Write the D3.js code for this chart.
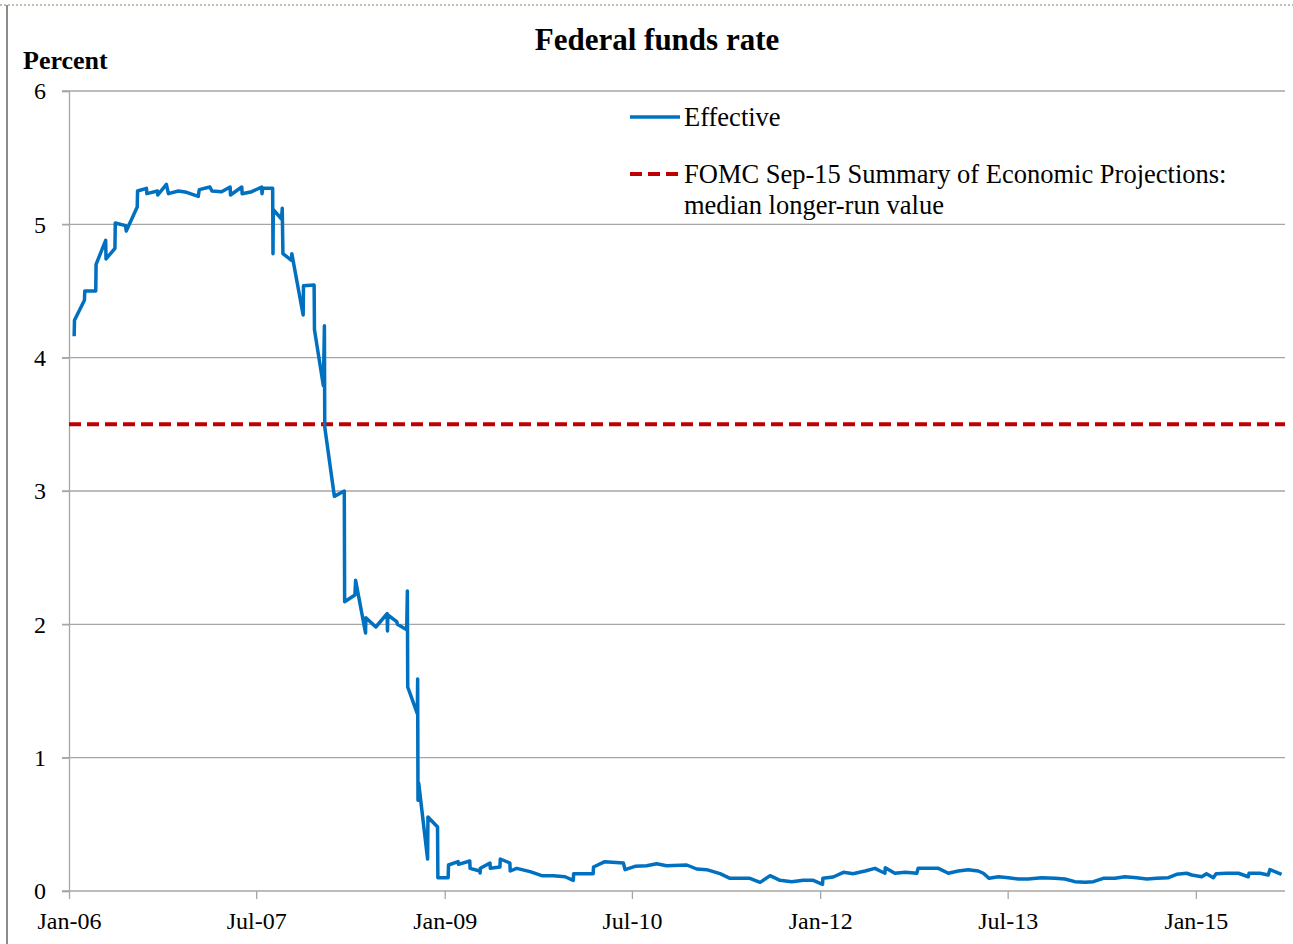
<!DOCTYPE html>
<html>
<head>
<meta charset="utf-8">
<script src="https://cdn.jsdelivr.net/npm/d3@7"></script>
<style>
  html, body { margin: 0; padding: 0; background: #fff; }
  svg { display: block; font-family: "Liberation Serif", "Times New Roman", serif; }
  .tick text { font-size: 24px; fill: #000; font-family: "Liberation Serif", "Times New Roman", serif; }
</style>
</head>
<body>
<svg id="chart" width="1293" height="944"></svg>
<script>
// effective fed funds rate
const dates = [
  '2006-01-16','2006-01-17','2006-02-15','2006-02-16','2006-03-20','2006-03-21','2006-04-18','2006-04-19',
  '2006-05-15','2006-05-16','2006-06-15','2006-06-17','2006-07-19','2006-07-20','2006-08-15','2006-08-16',
  '2006-09-16','2006-09-17','2006-10-12','2006-10-18','2006-11-16','2006-12-10','2007-01-13','2007-01-16',
  '2007-02-16','2007-02-22','2007-03-22','2007-04-16','2007-04-17','2007-05-20','2007-05-21','2007-06-18',
  '2007-07-17','2007-07-18','2007-07-20','2007-08-18','2007-08-19','2007-08-20','2007-09-13','2007-09-15',
  '2007-09-17','2007-10-12','2007-10-13','2007-11-15','2007-11-16','2007-12-17','2007-12-18','2008-01-13',
  '2008-01-16','2008-01-17','2008-02-14','2008-03-14','2008-03-15','2008-04-14','2008-04-16','2008-05-15',
  '2008-05-16','2008-06-14','2008-07-17','2008-07-18','2008-07-19','2008-08-14','2008-08-16','2008-09-12',
  '2008-09-14','2008-09-15','2008-10-13','2008-10-14','2008-10-15','2008-10-17','2008-11-12','2008-11-13',
  '2008-12-11','2008-12-12','2009-01-11','2009-01-12','2009-02-09','2009-02-10','2009-03-15','2009-03-16',
  '2009-04-13','2009-04-14','2009-04-15','2009-05-13','2009-05-14','2009-06-11','2009-06-12','2009-07-10',
  '2009-07-11','2009-07-30','2009-09-07','2009-10-11','2009-11-14','2009-12-18','2010-01-11','2010-01-12',
  '2010-02-09','2010-03-10','2010-03-11','2010-04-13','2010-06-06','2010-06-11','2010-07-10','2010-08-13',
  '2010-09-11','2010-10-10','2010-12-08','2011-01-06','2011-02-04','2011-03-15','2011-04-13','2011-05-12',
  '2011-06-10','2011-07-10','2011-08-08','2011-09-06','2011-10-10','2011-11-13','2011-12-12','2012-01-08',
  '2012-01-09','2012-02-08','2012-03-09','2012-04-07','2012-04-12','2012-05-11','2012-06-09','2012-06-24',
  '2012-07-08','2012-07-09','2012-08-06','2012-09-05','2012-10-09','2012-10-13','2012-12-11','2013-01-09',
  '2013-02-07','2013-03-08','2013-04-06','2013-04-21','2013-05-08','2013-06-04','2013-07-03','2013-08-01',
  '2013-08-30','2013-10-08','2013-11-16','2013-12-15','2014-01-13','2014-02-12','2014-03-08','2014-04-06',
  '2014-05-10','2014-06-08','2014-07-12','2014-08-11','2014-09-09','2014-10-13','2014-11-06','2014-12-05',
  '2014-12-20','2015-01-18','2015-02-01','2015-02-21','2015-03-01','2015-04-01','2015-05-05','2015-06-03',
  '2015-06-05','2015-07-07','2015-07-31','2015-08-05','2015-09-08'
];
const effective = [
  4.16, 4.28, 4.43, 4.50, 4.50, 4.70, 4.88, 4.74,
  4.82, 5.01, 4.99, 4.95, 5.13, 5.25, 5.27, 5.23,
  5.25, 5.22, 5.30, 5.23, 5.25, 5.24, 5.21, 5.26,
  5.28, 5.25, 5.245, 5.28, 5.22, 5.28, 5.23, 5.245,
  5.28, 5.23, 5.27, 5.27, 4.78, 5.11, 5.04, 5.12,
  4.78, 4.73, 4.78, 4.32, 4.54, 4.545, 4.21, 3.79,
  4.24, 3.48, 2.96, 3.00, 2.17, 2.22, 2.33, 1.935,
  2.05, 1.98, 2.08, 1.95, 2.07, 2.02, 2.00, 1.96,
  2.25, 1.53, 1.33, 1.59, 0.68, 0.81, 0.24, 0.555,
  0.48, 0.10, 0.10, 0.195, 0.22, 0.20, 0.225, 0.17,
  0.15, 0.135, 0.17, 0.21, 0.17, 0.18, 0.24, 0.21,
  0.15, 0.17, 0.145, 0.115, 0.115, 0.107, 0.08, 0.13,
  0.13, 0.13, 0.18, 0.22, 0.21, 0.16, 0.185, 0.19,
  0.205, 0.19, 0.195, 0.165, 0.16, 0.13, 0.095, 0.095,
  0.095, 0.065, 0.115, 0.08, 0.07, 0.08, 0.08, 0.05,
  0.095, 0.105, 0.14, 0.13, 0.133, 0.15, 0.17, 0.15,
  0.133, 0.175, 0.133, 0.14, 0.133, 0.17, 0.17, 0.133,
  0.15, 0.16, 0.15, 0.133, 0.095, 0.107, 0.10, 0.09,
  0.09, 0.10, 0.095, 0.09, 0.07, 0.065, 0.07, 0.095,
  0.095, 0.107, 0.10, 0.09, 0.095, 0.10, 0.125, 0.133,
  0.12, 0.107, 0.13, 0.10, 0.13, 0.133, 0.133, 0.107,
  0.133, 0.133, 0.12, 0.16, 0.125
];

const longerRun = 3.5;
const yTicks = [0, 1, 2, 3, 4, 5, 6];
const xTicks = ['2006-01-01', '2007-07-01', '2009-01-01', '2010-07-01', '2012-01-01', '2013-07-01', '2015-01-01'];
const xDomain = ['2006-01-01', '2015-09-18'];

const BLUE = '#0070c0';
const RED = '#c00000';
const GRID = '#a6a6a6';
const SERIF = '"Liberation Serif", "Times New Roman", serif';

const parse = d3.timeParse('%Y-%m-%d');
const series = dates.map((d, i) => ({ date: parse(d), value: effective[i] }));

const svg = d3.select('#chart');
const plot = { left: 69, right: 1285, top: 91, bottom: 891 };

const x = d3.scaleTime().domain(xDomain.map(parse)).range([plot.left, plot.right]);
const y = d3.scaleLinear().domain([0, 6]).range([plot.bottom, plot.top]);

// outer frame bits
svg.append('line').attr('x1', 7).attr('x2', 7).attr('y1', 5).attr('y2', 944)
  .attr('stroke', '#8c8c8c').attr('stroke-width', 2);
svg.append('line').attr('x1', 0).attr('x2', 1293).attr('y1', 5).attr('y2', 5)
  .attr('stroke', '#8a7a5a').attr('stroke-width', 1.2).attr('stroke-dasharray', '2,2');

// gridlines
svg.append('g')
  .selectAll('line')
  .data(yTicks.filter(t => t > 0))
  .join('line')
  .attr('x1', plot.left - 7).attr('x2', plot.right)
  .attr('y1', d => y(d)).attr('y2', d => y(d))
  .attr('stroke', GRID).attr('stroke-width', 1.3);

// y axis
const yAxis = svg.append('g')
  .attr('transform', `translate(${plot.left},0)`)
  .call(d3.axisLeft(y).tickValues(yTicks).tickSize(7).tickPadding(16).tickFormat(d3.format('d')))
  .attr('font-family', SERIF).attr('font-size', 24);
yAxis.select('.domain').attr('stroke', GRID).attr('stroke-width', 1.3);
yAxis.selectAll('.tick line').attr('stroke', GRID).attr('stroke-width', 1.3);
yAxis.selectAll('.tick text').attr('dy', '0.33em');

// x axis
const xAxis = svg.append('g')
  .attr('transform', `translate(0,${plot.bottom})`)
  .call(d3.axisBottom(x).tickValues(xTicks.map(parse)).tickSize(8).tickPadding(13)
    .tickFormat(d3.timeFormat('%b-%y')))
  .attr('font-family', SERIF).attr('font-size', 24);
xAxis.select('.domain').attr('stroke', GRID).attr('stroke-width', 1.3)
  .attr('d', `M${plot.left - 7},0H${plot.right}`);
xAxis.selectAll('.tick line').attr('stroke', GRID).attr('stroke-width', 1.3);

// longer-run value
svg.append('line')
  .attr('x1', plot.left).attr('x2', plot.right)
  .attr('y1', y(longerRun)).attr('y2', y(longerRun))
  .attr('stroke', RED).attr('stroke-width', 4).attr('stroke-dasharray', '12,6');

// effective rate
svg.append('path')
  .datum(series)
  .attr('fill', 'none')
  .attr('stroke', BLUE)
  .attr('stroke-width', 3.5)
  .attr('stroke-linejoin', 'round')
  .attr('d', d3.line().x(d => x(d.date)).y(d => y(d.value)));

// titles
svg.append('text').attr('x', 657).attr('y', 50).attr('text-anchor', 'middle')
  .attr('font-size', 31).attr('font-weight', 'bold').text('Federal funds rate');
svg.append('text').attr('x', 23).attr('y', 69)
  .attr('font-size', 26).attr('font-weight', 'bold').text('Percent');

// legend
const legend = svg.append('g').attr('font-size', 26.5);
legend.append('line').attr('x1', 630).attr('x2', 680).attr('y1', 117).attr('y2', 117)
  .attr('stroke', BLUE).attr('stroke-width', 3.5);
legend.append('text').attr('x', 684).attr('y', 126).text('Effective');
legend.append('line').attr('x1', 630).attr('x2', 680).attr('y1', 174).attr('y2', 174)
  .attr('stroke', RED).attr('stroke-width', 4).attr('stroke-dasharray', '12,6');
legend.append('text').attr('x', 684).attr('y', 183).text('FOMC Sep-15 Summary of Economic Projections:');
legend.append('text').attr('x', 684).attr('y', 214).text('median longer-run value');
</script>
</body>
</html>
